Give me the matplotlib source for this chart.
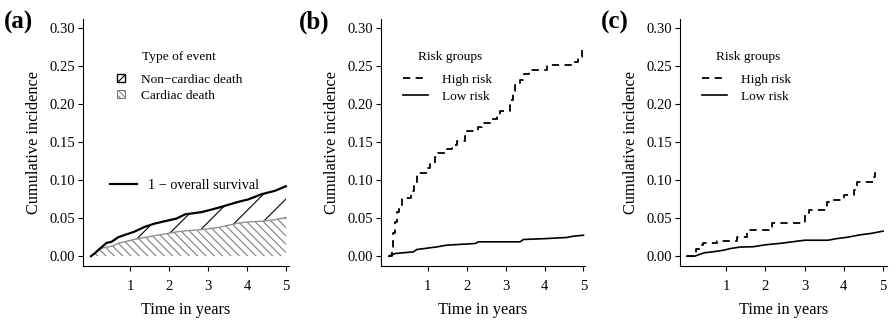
import matplotlib
matplotlib.use("Agg")
import matplotlib.pyplot as plt
from matplotlib.lines import Line2D
from matplotlib.patches import Patch
import numpy as np

plt.rcParams['font.family'] = ['Liberation Serif', 'DejaVu Serif']
plt.rcParams['hatch.linewidth'] = 0.8

# panel (a): cumulative incidence by type of event
a_time = [0, 0.1, 0.23, 0.4, 0.53, 0.7, 0.87, 1.1, 1.38, 1.64, 1.98, 2.2, 2.41, 2.84, 3.26, 3.78, 4.03, 4.38, 4.72, 5.0]
a_overall = [0, 0.004, 0.010, 0.0175, 0.019, 0.025, 0.028, 0.032, 0.0386, 0.043, 0.047, 0.0496, 0.055, 0.058, 0.0636, 0.0715, 0.0746, 0.0816, 0.086, 0.092]
a_cardiac = [0, 0.004, 0.010, 0.012, 0.013, 0.017, 0.019, 0.022, 0.0246, 0.027, 0.030, 0.032, 0.0333, 0.035, 0.0377, 0.0435, 0.045, 0.046, 0.048, 0.051]

# panel (b): risk groups
b_high_t = [0, 0.08, 0.12, 0.16, 0.2, 0.26, 0.33, 0.57, 0.64, 0.72, 0.98, 1.06, 1.18, 1.26, 1.5, 1.62, 1.76, 1.96, 2.0, 2.3,
            2.4, 2.66, 2.78, 2.86, 3.12, 3.2, 3.25, 3.36, 3.48, 3.6, 4.06, 4.72, 4.86, 4.97, 5.0]
b_high_v = [0, 0.012, 0.03, 0.045, 0.058, 0.068, 0.077, 0.086, 0.097, 0.109, 0.116, 0.123, 0.131, 0.136, 0.141, 0.146, 0.151, 0.158, 0.165, 0.170,
            0.175, 0.180, 0.186, 0.191, 0.205, 0.217, 0.225, 0.232, 0.239, 0.245, 0.251, 0.256, 0.262, 0.276, 0.276]
b_low_t = [0, 0.16, 0.63, 0.72, 1.23, 1.49, 2.22, 2.3, 3.37, 3.46, 3.97, 4.57, 4.74, 5.0]
b_low_v = [0, 0.0035, 0.0057, 0.0088, 0.0122, 0.0145, 0.0167, 0.0189, 0.0189, 0.022, 0.023, 0.0246, 0.0263, 0.0276]

# panel (c): risk groups
c_high_t = [0, 0.22, 0.34, 0.4, 0.76, 1.27, 1.53, 2.08, 2.17, 3.02, 3.06, 3.12, 3.58, 3.62, 4.0, 4.26, 4.34, 4.75, 4.79, 4.82]
c_high_v = [0, 0.009, 0.0145, 0.017, 0.020, 0.0246, 0.034, 0.0386, 0.044, 0.054, 0.056, 0.061, 0.0715, 0.074, 0.080, 0.087, 0.098, 0.104, 0.109, 0.109]
c_low_t = [0, 0.2, 0.3, 0.45, 0.7, 0.95, 1.1, 1.35, 1.7, 2.0, 2.4, 2.7, 3.0, 3.6, 3.8, 4.1, 4.4, 4.7, 5.0]
c_low_v = [0, 0, 0.002, 0.0045, 0.006, 0.008, 0.010, 0.012, 0.0125, 0.015, 0.017, 0.019, 0.021, 0.021, 0.023, 0.025, 0.028, 0.030, 0.033]

panel_labels = ["(a)", "(b)", "(c)"]
yticks = [0.0, 0.05, 0.10, 0.15, 0.20, 0.25, 0.30]
xticks = [1, 2, 3, 4, 5]

W, H = 889, 322
fig = plt.figure(figsize=(W / 100, H / 100), dpi=100)

# axes boxes in pixels: left, right, plus x limits
boxes = [(83, 289, -0.205, 5.08), (381, 585, -0.2, 5.04), (680, 887, -0.176, 5.1)]
ax_top, ax_bot = 19, 265.7
label_x = [4, 299, 601]
axes = []
for (l, r, x0, x1), lab, lx in zip(boxes, panel_labels, label_x):
    ax = fig.add_axes([l / W, 1 - ax_bot / H, (r - l) / W, (ax_bot - ax_top) / H])
    ax.set_xlim(x0, x1)
    ax.set_ylim(-0.0125, 0.312)
    for s in ["top", "right"]:
        ax.spines[s].set_visible(False)
    for s in ["left", "bottom"]:
        ax.spines[s].set_linewidth(0.8)
    ax.set_yticks(yticks)
    ax.set_yticklabels(["%.2f" % v for v in yticks])
    ax.set_xticks(xticks)
    ax.tick_params(labelsize=10.5, length=3.6, width=0.8, pad=2)
    ax.tick_params(axis="x", pad=7)
    ax.set_ylabel("Cumulative incidence", fontsize=11.8)
    ax.yaxis.set_label_coords(-41 / (r - l), 0.5)
    ax.set_xlabel("Time in years", fontsize=11.8)
    ax.xaxis.set_label_coords(0.5, -0.147)
    fig.text(lx / W, 1 - 22 / H, lab, fontsize=18, fontweight="bold", va="center", ha="left")
    axes.append(ax)

# (a)
ax = axes[0]
ax.fill_between(a_time, 0, a_cardiac, facecolor="none", edgecolor="#808080", hatch="\\\\\\\\", linewidth=0)
poly = ax.fill_between(a_time, a_cardiac, a_overall, facecolor="none", linewidth=0)
clip = poly.get_paths()[0]
# sparse "/" shading for non-cardiac deaths, drawn at 45 degrees on screen
p0 = ax.transData.transform((0, 0))
p1 = ax.transData.transform((1, 1))
slope = (p1[0] - p0[0]) / (p1[1] - p0[1])
xs = np.array([-0.5, 5.5])
for x0 in np.arange(0.033, 5.0, 0.70):
    ln, = ax.plot(xs, slope * (xs - x0), color="black", lw=0.8)
    ln.set_clip_path(clip, ax.transData)
ax.plot(a_time, a_cardiac, color="#909090", lw=1.0)
ax.plot(a_time, a_overall, color="black", lw=1.6)

ax.text(0.466, 0.846, "Type of event", transform=ax.transAxes, ha="center", va="center", fontsize=9.6)
leg1 = ax.legend(handles=[Patch(facecolor="white", edgecolor="black", hatch="//", lw=1.0),
                          Patch(facecolor="white", edgecolor="#808080", hatch="\\\\\\\\\\\\", lw=0.8)],
                 labels=["Non\u2212cardiac death", "Cardiac death"],
                 loc="upper left", bbox_to_anchor=(0.165, 0.779), frameon=False, fontsize=9.6,
                 handlelength=0.6, handleheight=0.6, handletextpad=1.2,
                 borderpad=0, borderaxespad=0, labelspacing=0.33)
ax.add_artist(leg1)
ax.legend(handles=[Line2D([], [], color="black", lw=1.6)], labels=["1 \u2212 overall survival"],
          loc="upper left", bbox_to_anchor=(0.131, 0.351), frameon=False, fontsize=10.3,
          handlelength=1.9, handletextpad=0.77, borderpad=0, borderaxespad=0)

# (b) and (c)
title_x = [0.338, 0.329]
for ax, ht, hv, lt, lv, tx in [(axes[1], b_high_t, b_high_v, b_low_t, b_low_v, title_x[0]),
                               (axes[2], c_high_t, c_high_v, c_low_t, c_low_v, title_x[1])]:
    ax.plot(ht, hv, color="black", lw=1.3, ls=(0, (4, 3)), drawstyle="steps-post", label="High risk")
    ax.plot(lt, lv, color="black", lw=1.2, label="Low risk")
    ax.text(tx, 0.846, "Risk groups", transform=ax.transAxes, ha="center", va="center", fontsize=9.6)
    ax.legend(loc="upper left", bbox_to_anchor=(0.107, 0.779), frameon=False,
              fontsize=9.6, handlelength=1.9, handletextpad=1.05,
              borderpad=0, borderaxespad=0, labelspacing=0.33)

fig.savefig("out.png", dpi=100)
